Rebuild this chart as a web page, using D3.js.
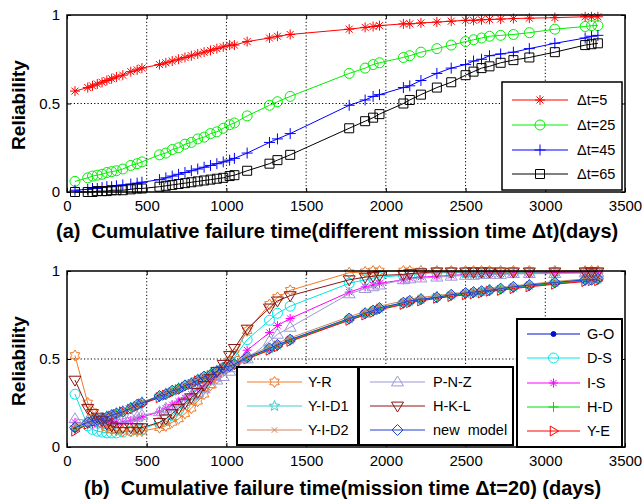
<!DOCTYPE html>
<html><head><meta charset="utf-8">
<script src="https://cdn.jsdelivr.net/npm/d3@7"></script>
<style>body{margin:0;background:#fff}svg{display:block}text{font-family:"Liberation Sans",Arial,sans-serif}</style>
</head><body><svg id="c" width="643" height="500"></svg>
<script>
// ---------- data ----------
const failureTimes = [50,130,160,190,220,250,280,310,350,400,440,470,580,620,660,700,740,780,820,860,900,940,980,1020,1050,1130,1270,1320,1400,1770,1870,1920,1960,2110,2150,2220,2320,2410,2500,2550,2600,2650,2720,2800,2900,3060,3250,3290,3330];
const xTicks = [0,500,1000,1500,2000,2500,3000,3500];
const yTicks = [0,0.5,1];
const yTickLabels = ["0","0.5","1"];

// panel (a)
const topNames = ["\u0394t=5","\u0394t=25","\u0394t=45","\u0394t=65"];
const dt5  = [0.57,0.59,0.60,0.61,0.62,0.63,0.64,0.65,0.66,0.68,0.69,0.70,0.72,0.73,0.74,0.75,0.76,0.77,0.78,0.79,0.80,0.81,0.82,0.83,0.83,0.85,0.87,0.88,0.89,0.92,0.93,0.935,0.94,0.95,0.95,0.955,0.96,0.965,0.97,0.97,0.973,0.975,0.977,0.98,0.982,0.985,0.99,0.99,0.99];
const dt25 = [0.06,0.08,0.09,0.095,0.10,0.11,0.115,0.12,0.13,0.15,0.16,0.17,0.21,0.22,0.24,0.25,0.27,0.28,0.30,0.31,0.33,0.34,0.36,0.38,0.39,0.43,0.49,0.51,0.54,0.67,0.70,0.72,0.73,0.76,0.77,0.79,0.81,0.83,0.85,0.86,0.87,0.88,0.885,0.89,0.90,0.92,0.935,0.94,0.94];
const dt45 = [0.01,0.015,0.02,0.02,0.025,0.03,0.03,0.035,0.04,0.045,0.05,0.055,0.07,0.08,0.09,0.10,0.11,0.12,0.13,0.14,0.15,0.16,0.17,0.18,0.19,0.22,0.28,0.30,0.33,0.49,0.52,0.54,0.55,0.59,0.60,0.63,0.67,0.70,0.72,0.74,0.75,0.77,0.78,0.79,0.81,0.84,0.87,0.88,0.885];
const dt65 = [0.0,0.0,0.0,0.005,0.005,0.005,0.01,0.01,0.01,0.015,0.02,0.02,0.03,0.035,0.04,0.045,0.05,0.055,0.06,0.065,0.07,0.075,0.08,0.09,0.095,0.12,0.16,0.18,0.21,0.36,0.40,0.42,0.44,0.50,0.52,0.55,0.59,0.62,0.66,0.68,0.70,0.71,0.73,0.745,0.76,0.79,0.83,0.835,0.84];

// panel (b)
const GO   = [0.10,0.13,0.145,0.15,0.16,0.17,0.18,0.19,0.20,0.22,0.235,0.245,0.285,0.30,0.315,0.33,0.345,0.36,0.38,0.395,0.41,0.43,0.445,0.46,0.47,0.505,0.555,0.575,0.605,0.725,0.755,0.77,0.785,0.815,0.825,0.835,0.85,0.86,0.87,0.875,0.88,0.89,0.895,0.905,0.915,0.93,0.945,0.95,0.95];
const DS   = [0.30,0.12,0.10,0.09,0.085,0.08,0.08,0.08,0.085,0.09,0.10,0.10,0.14,0.16,0.18,0.21,0.24,0.27,0.30,0.34,0.38,0.41,0.45,0.48,0.51,0.61,0.72,0.76,0.80,0.93,0.95,0.96,0.965,0.975,0.98,0.985,0.99,0.99,0.99,0.99,0.99,0.99,0.99,0.99,0.99,0.99,0.99,0.99,0.99];
const IS   = [0.14,0.13,0.13,0.13,0.13,0.13,0.135,0.14,0.14,0.15,0.16,0.17,0.20,0.22,0.24,0.26,0.28,0.30,0.33,0.35,0.38,0.40,0.43,0.45,0.47,0.55,0.65,0.69,0.73,0.88,0.91,0.92,0.93,0.95,0.96,0.965,0.97,0.975,0.98,0.98,0.98,0.985,0.985,0.985,0.985,0.99,0.99,0.99,0.99];
const HD   = [0.10,0.13,0.145,0.155,0.16,0.17,0.18,0.19,0.20,0.22,0.235,0.25,0.285,0.30,0.315,0.33,0.345,0.36,0.38,0.395,0.41,0.43,0.445,0.46,0.47,0.505,0.555,0.575,0.605,0.725,0.755,0.77,0.785,0.815,0.825,0.835,0.85,0.86,0.87,0.875,0.88,0.89,0.895,0.905,0.915,0.93,0.945,0.95,0.95];
const YE   = [0.09,0.13,0.14,0.15,0.155,0.165,0.175,0.185,0.20,0.215,0.23,0.245,0.28,0.295,0.31,0.325,0.34,0.355,0.375,0.39,0.405,0.425,0.44,0.455,0.465,0.50,0.55,0.57,0.60,0.72,0.75,0.765,0.78,0.81,0.82,0.83,0.845,0.855,0.865,0.87,0.875,0.885,0.89,0.90,0.91,0.925,0.94,0.945,0.945];
const YR   = [0.52,0.25,0.20,0.16,0.13,0.11,0.10,0.095,0.09,0.09,0.09,0.09,0.11,0.12,0.14,0.16,0.19,0.22,0.26,0.30,0.35,0.39,0.44,0.49,0.53,0.66,0.81,0.85,0.89,0.99,0.995,1,1,1,1,1,1,1,1,1,1,1,1,1,1,1,1,1,1];
const YID1 = [0.11,0.14,0.15,0.16,0.165,0.175,0.185,0.195,0.205,0.225,0.24,0.255,0.29,0.305,0.32,0.335,0.35,0.365,0.385,0.40,0.415,0.435,0.45,0.465,0.475,0.51,0.56,0.58,0.61,0.73,0.76,0.775,0.79,0.82,0.83,0.84,0.855,0.865,0.875,0.88,0.885,0.895,0.90,0.91,0.92,0.935,0.95,0.955,0.955];
const YID2 = [0.12,0.14,0.15,0.16,0.165,0.175,0.185,0.195,0.205,0.225,0.24,0.255,0.29,0.305,0.325,0.34,0.355,0.37,0.39,0.405,0.42,0.44,0.455,0.47,0.48,0.515,0.57,0.59,0.62,0.74,0.77,0.785,0.80,0.83,0.84,0.85,0.86,0.87,0.88,0.885,0.89,0.90,0.905,0.915,0.925,0.94,0.955,0.96,0.96];
const PNZ  = [0.16,0.15,0.15,0.15,0.15,0.15,0.15,0.155,0.16,0.17,0.17,0.18,0.20,0.22,0.23,0.25,0.27,0.29,0.31,0.33,0.36,0.38,0.40,0.43,0.45,0.50,0.60,0.64,0.68,0.87,0.90,0.91,0.92,0.95,0.955,0.96,0.965,0.97,0.975,0.975,0.98,0.98,0.98,0.985,0.985,0.985,0.99,0.99,0.99];
const HKL  = [0.38,0.22,0.19,0.17,0.15,0.13,0.12,0.11,0.11,0.11,0.11,0.11,0.14,0.16,0.19,0.22,0.25,0.28,0.31,0.35,0.39,0.43,0.47,0.52,0.56,0.67,0.79,0.83,0.86,0.95,0.965,0.97,0.975,0.98,0.985,0.99,0.995,0.995,0.995,0.995,0.995,0.995,0.995,0.995,0.995,0.995,0.995,0.995,0.995];
const NEWM = [0.11,0.14,0.15,0.155,0.16,0.17,0.18,0.19,0.20,0.22,0.24,0.25,0.29,0.30,0.32,0.33,0.35,0.36,0.38,0.40,0.41,0.43,0.45,0.46,0.47,0.51,0.56,0.58,0.61,0.73,0.76,0.775,0.79,0.82,0.83,0.84,0.85,0.865,0.875,0.88,0.885,0.89,0.90,0.91,0.92,0.935,0.95,0.95,0.955];

// ---------- markers ----------
function starPath(n, R, r, rot){let p=[];for(let i=0;i<2*n;i++){const a=rot+i*Math.PI/n;const rr=i%2?r:R;p.push([rr*Math.sin(a),-rr*Math.cos(a)]);}return "M"+p.map(q=>q[0].toFixed(2)+","+q[1].toFixed(2)).join("L")+"Z";}
const M = {
  asterisk: s=>`M${-s},0L${s},0M0,${-s}L0,${s}M${-.7*s},${-.7*s}L${.7*s},${.7*s}M${-.7*s},${.7*s}L${.7*s},${-.7*s}`,
  plus: s=>`M${-s},0L${s},0M0,${-s}L0,${s}`,
  cross: s=>`M${-.7*s},${-.7*s}L${.7*s},${.7*s}M${-.7*s},${.7*s}L${.7*s},${-.7*s}`,
  circle: s=>`M${s},0A${s},${s} 0 1,1 ${-s},0A${s},${s} 0 1,1 ${s},0Z`,
  dot: s=>`M${s},0A${s},${s} 0 1,1 ${-s},0A${s},${s} 0 1,1 ${s},0Z`,
  square: s=>`M${-s},${-s}L${s},${-s}L${s},${s}L${-s},${s}Z`,
  up: s=>`M0,${-s}L${s},${.65*s}L${-s},${.65*s}Z`,
  down: s=>`M0,${s}L${s},${-.65*s}L${-s},${-.65*s}Z`,
  right: s=>`M${s},0L${-.65*s},${-s}L${-.65*s},${s}Z`,
  diamond: s=>`M0,${-s}L${s},0L0,${s}L${-s},0Z`,
  pentagram: s=>starPath(5,s,s*0.42,0),
  hexagram: s=>starPath(6,s,s*0.6,0)
};

const svg = d3.select("#c");
const x = d3.scaleLinear().domain([0,3500]).range([67,625]);

function panel(yTop, yBot, series, label, labelX, labelY, ylabY){
  const y = d3.scaleLinear().domain([0,1]).range([yBot,yTop]);
  const g = svg.append("g");
  // grid
  g.selectAll(".gx").data(xTicks.slice(1,-1)).join("line")
    .attr("x1",d=>x(d)).attr("x2",d=>x(d)).attr("y1",yTop).attr("y2",yBot)
    .attr("stroke","#000").attr("stroke-width",1).attr("stroke-dasharray","1.2,2.2");
  g.selectAll(".gy").data([0.5]).join("line")
    .attr("x1",x(0)).attr("x2",x(3500)).attr("y1",d=>y(d)).attr("y2",d=>y(d))
    .attr("stroke","#000").attr("stroke-width",1).attr("stroke-dasharray","1.2,2.2");
  // axes
  g.append("g").attr("transform",`translate(0,${yBot})`)
    .call(d3.axisBottom(x).tickValues(xTicks).tickSize(-4).tickPadding(8).tickFormat(d3.format("d")));
  g.append("g").attr("transform",`translate(0,${yTop})`)
    .call(d3.axisTop(x).tickValues(xTicks).tickSize(-4).tickFormat(""));
  g.append("g").attr("transform",`translate(${x(0)},0)`)
    .call(d3.axisLeft(y).tickValues(yTicks).tickSize(-4).tickPadding(7).tickFormat((d,i)=>yTickLabels[i]));
  g.append("g").attr("transform",`translate(${x(3500)},0)`)
    .call(d3.axisRight(y).tickValues(yTicks).tickSize(-4).tickFormat(""));
  g.selectAll(".domain").remove();
  g.selectAll(".tick line").attr("stroke","#000");
  g.selectAll(".tick text").attr("font-size",15).attr("fill","#000").attr("font-family","Liberation Sans, Arial");
  // series
  const line = d3.line().x((d,i)=>x(failureTimes[i])).y(d=>y(d));
  series.forEach(s=>{
    const sg = g.append("g");
    sg.append("path").attr("d",line(s.values)).attr("fill","none").attr("stroke",s.color).attr("stroke-width",1);
    sg.selectAll("path.m").data(s.values).join("path").attr("class","m")
      .attr("transform",(d,i)=>`translate(${x(failureTimes[i])},${y(d)})`)
      .attr("d",M[s.marker](s.size))
      .attr("fill",s.marker==="dot"?s.color:"none").attr("stroke",s.color).attr("stroke-width",1);
  });
  // frame
  g.append("rect").attr("x",x(0)).attr("y",yTop).attr("width",x(3500)-x(0)).attr("height",yBot-yTop)
    .attr("fill","none").attr("stroke","#000").attr("stroke-width",1.5);
  // labels
  g.append("text").attr("transform",`translate(25,${ylabY}) rotate(-90)`).attr("text-anchor","middle")
    .attr("font-size",19).attr("font-weight","bold").text("Reliability");
  g.append("text").attr("x",labelX).attr("y",labelY).attr("font-size",20).attr("font-weight","bold")
    .style("white-space","pre").text(label);
  return {g,y};
}

function legend(bx,by,bw,bh,items,lineX1,lineX2,textX,rowYs,sw){
  const g = svg.append("g");
  g.append("rect").attr("x",bx).attr("y",by).attr("width",bw).attr("height",bh)
    .attr("fill","#fff").attr("stroke","#000").attr("stroke-width",sw);
  items.forEach((s,i)=>{
    const yy = rowYs[i];
    g.append("line").attr("x1",lineX1).attr("x2",lineX2).attr("y1",yy).attr("y2",yy).attr("stroke",s.color).attr("stroke-width",1);
    g.append("path").attr("transform",`translate(${(lineX1+lineX2)/2},${yy})`).attr("d",M[s.marker](s.size))
      .attr("fill",s.marker==="dot"?s.color:"none").attr("stroke",s.color).attr("stroke-width",1);
    g.append("text").attr("x",textX).attr("y",yy+5).attr("font-size",14.5).style("white-space","pre").text(s.name);
  });
}

// ---- panel (a)
const topSeries = [
  {name:topNames[0],values:dt5, color:"#ff0000",marker:"asterisk",size:5},
  {name:topNames[1],values:dt25,color:"#00ee00",marker:"circle",size:5},
  {name:topNames[2],values:dt45,color:"#0000ff",marker:"plus",size:5.5},
  {name:topNames[3],values:dt65,color:"#000000",marker:"square",size:4.5}
];
panel(15,192,topSeries,"(a)  Cumulative failure time(different mission time \u0394t)(days)",56,238,105);
legend(502,82,120,108,topSeries,512,568,577,[100,125,150,174],1.5);

// ---- panel (b)
const bottomSeries = [
  {name:"G-O",values:GO,color:"#0010d0",marker:"dot",size:2.5},
  {name:"D-S",values:DS,color:"#00e6e6",marker:"circle",size:5},
  {name:"I-S",values:IS,color:"#ff00ff",marker:"asterisk",size:4.5},
  {name:"H-D",values:HD,color:"#00dd00",marker:"plus",size:5},
  {name:"Y-E",values:YE,color:"#ff0000",marker:"right",size:5},
  {name:"Y-R",values:YR,color:"#f07a28",marker:"hexagram",size:5.5},
  {name:"Y-I-D1",values:YID1,color:"#40cccc",marker:"pentagram",size:5.5},
  {name:"Y-I-D2",values:YID2,color:"#d08458",marker:"cross",size:4},
  {name:"P-N-Z",values:PNZ,color:"#9a9ad2",marker:"up",size:6},
  {name:"H-K-L",values:HKL,color:"#8b1414",marker:"down",size:6},
  {name:"new  model",values:NEWM,color:"#2040d0",marker:"diamond",size:5.5}
];
panel(271,447,bottomSeries,"(b)  Cumulative failure time(mission time \u0394t=20) (days)",84,495,361);
legend(237,367,121,78,[bottomSeries[5],bottomSeries[6],bottomSeries[7]],247,302,308,[382,406,430],2);
legend(359,367,154,78,[bottomSeries[8],bottomSeries[9],bottomSeries[10]],370,425,433,[382,406,430],2);
legend(517,319,105,128,[bottomSeries[0],bottomSeries[1],bottomSeries[2],bottomSeries[3],bottomSeries[4]],527,580,587,[334,358,383,407,431],2);
</script></body></html>
